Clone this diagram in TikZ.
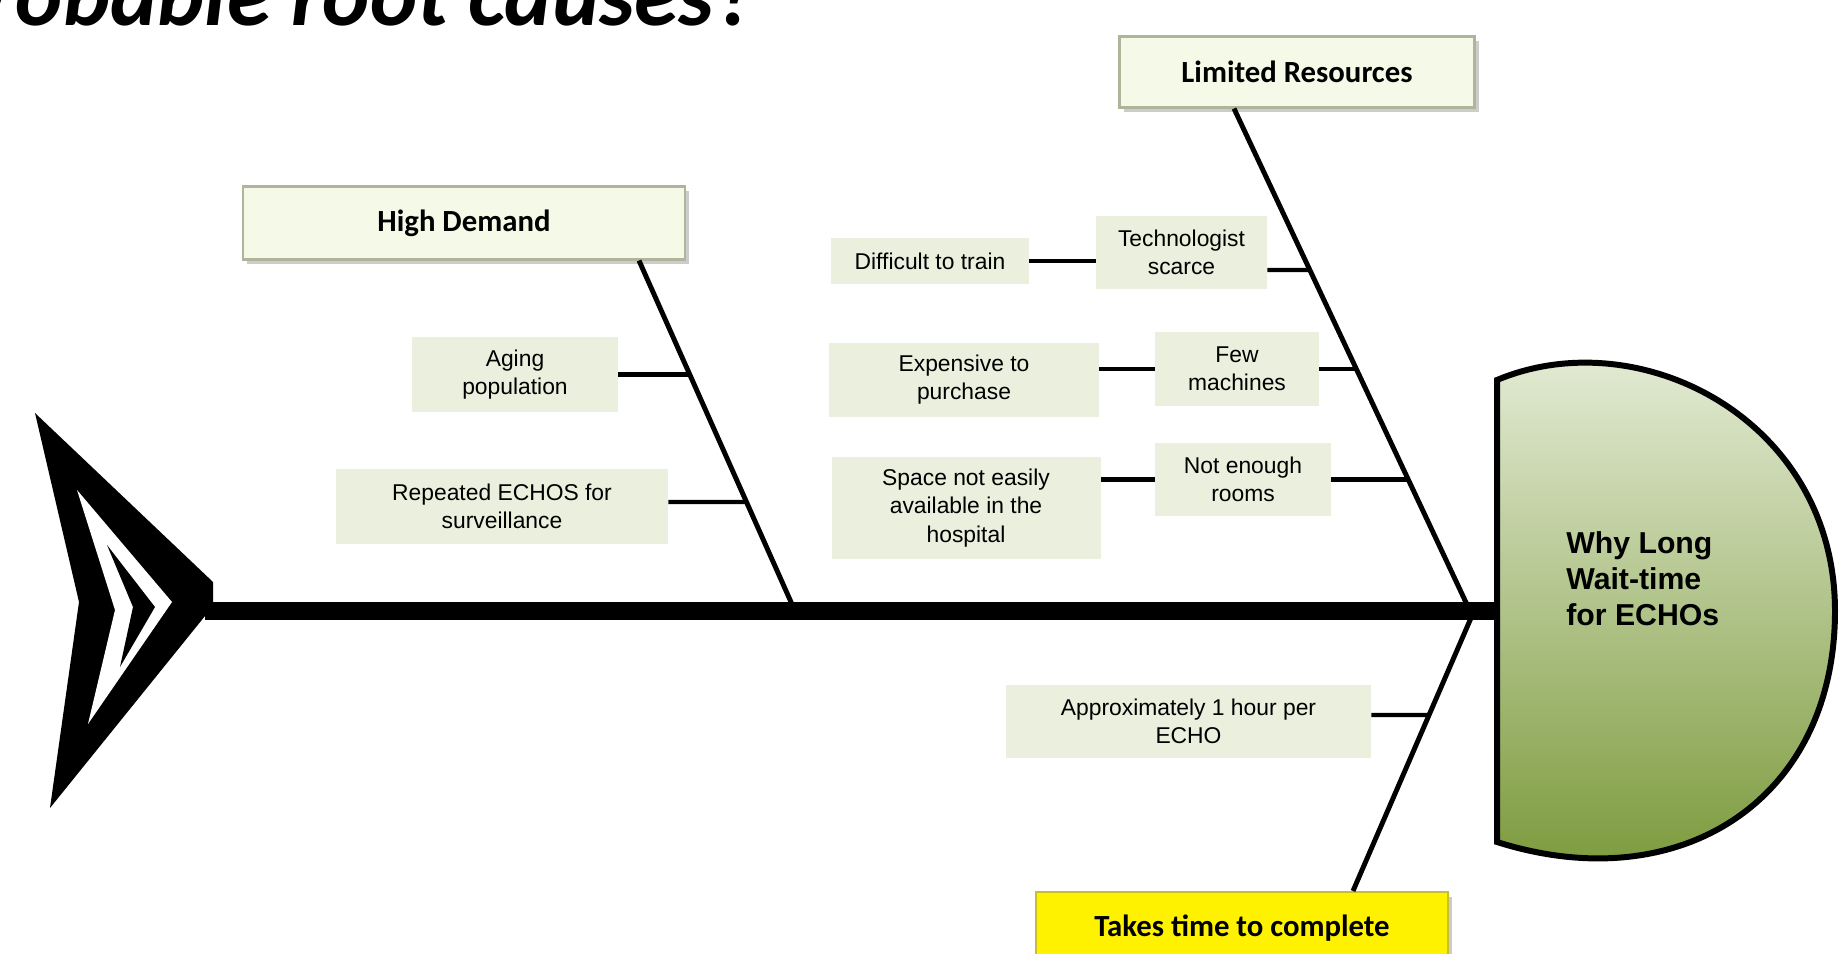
\documentclass[tikz,border=0pt]{standalone}
\usepackage{fontspec}
\setmainfont{Liberation Sans}
\newfontfamily\carlito{Carlito}
\usetikzlibrary{shadows}

\definecolor{causefill}{RGB}{234,239,222}
\definecolor{catfill}{RGB}{245,249,231}
\definecolor{catedge}{RGB}{175,181,155}
\definecolor{headlight}{RGB}{234,240,222}
\definecolor{headdark}{RGB}{118,150,52}

\tikzset{
	cause/.style={fill=causefill, align=center, inner sep=0pt, font=\fontsize{13}{16}\selectfont},
	category/.style={fill=catfill, draw=catedge, line width=1.2pt, inner sep=0pt,
		font=\carlito\bfseries\fontsize{17.5}{21}\selectfont,
		drop shadow={shadow xshift=0.8mm, shadow yshift=-1mm, opacity=0.4}},
	bone/.style={line width=2.8pt},
	twig/.style={line width=2.4pt},
}

\begin{document}
\begin{tikzpicture}[x=0.2mm,y=-0.2mm]
		\useasboundingbox (0,0) rectangle (1839,954);
		% title, cut off at the top
		\node[anchor=base east, inner sep=0pt, font=\carlito\bfseries\itshape\fontsize{51}{60}\selectfont] (title) at (756,26) {Probable root causes?};

		% tail
		\fill (35,413) -- (213,582) -- (213,602) -- (205,616) -- (50,808) -- (79,602) -- cycle;
		\fill[white] (77,490) -- (172,602) -- (88,724) -- (115,610) -- cycle;
		\fill (107,545) -- (155,607) -- (120,667) -- (133,607) -- cycle;
		\coordinate (tail) at (205,611);
		\coordinate (neck) at (1497,611);
		\draw[line width=10.6pt] (tail) -- (neck);

		% head
		\draw[line width=3.4pt, top color=headlight, middle color=headlight!97!headdark, bottom color=headdark]
			(1497,380) .. controls (1640,320) and (1835,420) .. (1835,611)
			.. controls (1835,800) and (1680,900) .. (1497,842) -- cycle;
		\node[anchor=west, align=left, inner sep=0pt, font=\bfseries\fontsize{17.2}{20.5}\selectfont] (effect) at (1566,579) {Why Long\\Wait-time\\for ECHOs};

		% main bones
		\node[category, minimum width=88.4mm, minimum height=14.6mm] (demand) at (464,223) {High Demand};
		\node[category, minimum width=71mm, minimum height=14.2mm] (resources) at (1297,72) {Limited Resources};
		\node[category, fill=yellow, draw=yellow!75!black, minimum width=82.4mm, minimum height=14.4mm] (duration) at (1242,928) {Takes time to complete};
		\coordinate (demandfoot) at (795,611);
		\coordinate (resourcesfoot) at (1470,611);
		\coordinate (durationfoot) at (1474,611);
		\draw[bone] ([xshift=35mm]demand.south) -- (demandfoot);
		\draw[bone] ([xshift=-12.6mm]resources.south) -- (resourcesfoot);
		\draw[bone] ([xshift=22.2mm]duration.north) -- (durationfoot);

		% causes
		\node[cause, minimum width=41.2mm, minimum height=15mm] (aging) at (515,374.5) {Aging\\population};
		\node[cause, minimum width=66.4mm, minimum height=15mm] (repeated) at (502,506.5) {Repeated ECHOS for\\surveillance};
		\node[cause, minimum width=39.6mm, minimum height=9.2mm] (difficult) at (930,261) {Difficult to train};
		\node[cause, minimum width=34.2mm, minimum height=14.6mm] (scarce) at (1181.5,252.5) {Technologist\\scarce};
		\node[cause, minimum width=54mm, minimum height=14.8mm] (expensive) at (964,380) {Expensive to\\purchase};
		\node[cause, minimum width=32.8mm, minimum height=14.8mm] (machines) at (1237,369) {Few\\machines};
		\node[cause, minimum width=53.8mm, minimum height=20.4mm] (space) at (966,508) {Space not easily\\available in the\\hospital};
		\node[cause, minimum width=35.2mm, minimum height=14.6mm] (rooms) at (1243,479.5) {Not enough\\rooms};
		\node[cause, minimum width=73mm, minimum height=14.6mm] (hour) at (1188.5,721.5) {Approximately 1 hour per\\ECHO};

		\coordinate (agingjoin) at (690,374.5);
		\coordinate (repeatedjoin) at (746.5,502);
		\coordinate (scarcejoin) at (1310.5,270);
		\coordinate (machinesjoin) at (1357,369);
		\coordinate (roomsjoin) at (1409,479.5);
		\coordinate (hourjoin) at (1429,715);

		\draw[twig] (aging.east) -- (agingjoin);
		\draw[twig] ([yshift=0.9mm]repeated.east) -- (repeatedjoin);
		\draw[twig] ([yshift=-3.5mm]scarce.east) -- (scarcejoin);
		\draw[twig] (machines.east) -- (machinesjoin);
		\draw[twig] (rooms.east) -- (roomsjoin);
		\draw[twig] ([yshift=1.3mm]hour.east) -- (hourjoin);
		\draw[twig] (difficult.east) -- (difficult.east -| scarce.west);
		\draw[twig] (expensive.east |- machines.west) -- (machines.west);
		\draw[twig] (space.east |- rooms.west) -- (rooms.west);
	\end{tikzpicture}
\end{document}
